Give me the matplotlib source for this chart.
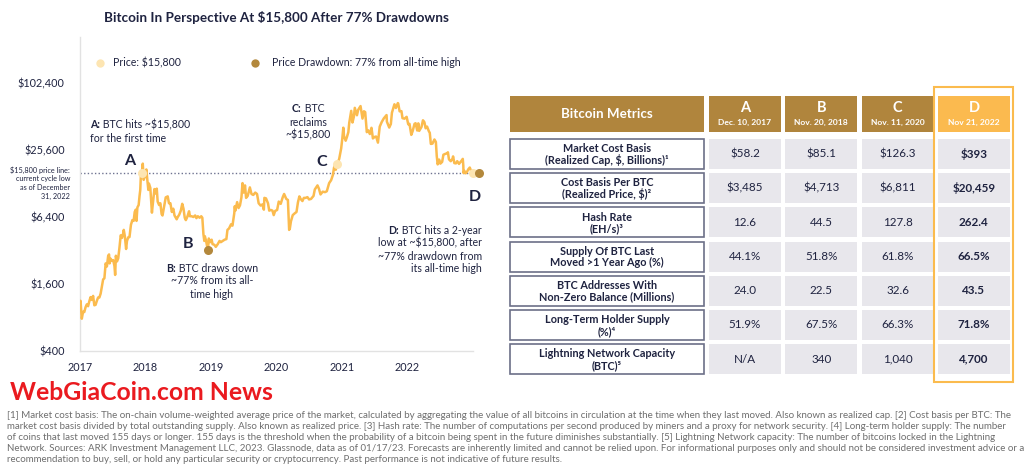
import matplotlib
matplotlib.use("Agg")
import matplotlib.pyplot as plt
from matplotlib.patches import Rectangle
import pandas as pd

plt.rcParams['text.parse_math'] = False
plt.rcParams['font.family'] = ['Lato', 'DejaVu Sans']

NAVY = '#1F2340'
LINE = '#FBBB4E'
LIGHT = '#FDE5B2'
DARK = '#B3883C'
HEAD = '#B0853D'
DHEAD = '#FBBA4F'
CELL = '#E8E7EC'
GRAY = '#E2E2E2'

# ---------------- data ----------------
price_dates = [
 "2017-01-01","2017-01-04","2017-01-11","2017-01-18","2017-01-25","2017-02-01","2017-02-08","2017-02-15","2017-02-22",
 "2017-03-01","2017-03-08","2017-03-15","2017-03-22","2017-03-29","2017-04-05","2017-04-12","2017-04-19","2017-04-26",
 "2017-05-03","2017-05-10","2017-05-17","2017-05-24","2017-05-31","2017-06-07","2017-06-12","2017-06-15","2017-06-21",
 "2017-06-28","2017-07-05","2017-07-12","2017-07-16","2017-07-20","2017-07-26","2017-08-02","2017-08-09","2017-08-16",
 "2017-08-23","2017-08-30","2017-09-02","2017-09-08","2017-09-15","2017-09-20","2017-09-27","2017-10-04","2017-10-12",
 "2017-10-20","2017-10-27","2017-11-02","2017-11-08","2017-11-12","2017-11-17","2017-11-24","2017-11-29","2017-12-03",
 "2017-12-07","2017-12-10","2017-12-17","2017-12-22","2017-12-28",
 "2018-01-06","2018-01-10","2018-01-17","2018-01-20","2018-01-28","2018-02-02","2018-02-06","2018-02-10","2018-02-20",
 "2018-02-28","2018-03-05","2018-03-10","2018-03-18","2018-03-25","2018-04-01","2018-04-06","2018-04-15","2018-04-24",
 "2018-05-05","2018-05-12","2018-05-20","2018-05-28","2018-06-05","2018-06-12","2018-06-24","2018-06-30","2018-07-08",
 "2018-07-17","2018-07-25","2018-08-01","2018-08-08","2018-08-14","2018-08-22","2018-09-01","2018-09-06","2018-09-15",
 "2018-09-25","2018-10-05","2018-10-12","2018-10-20","2018-10-30","2018-11-08","2018-11-14","2018-11-16","2018-11-20",
 "2018-11-25","2018-11-28","2018-12-05","2018-12-15","2018-12-20","2018-12-28",
 "2019-01-05","2019-01-10","2019-01-20","2019-01-28","2019-02-08","2019-02-18","2019-02-25","2019-03-08","2019-03-18",
 "2019-03-28","2019-04-03","2019-04-12","2019-04-23","2019-05-01","2019-05-11","2019-05-14","2019-05-17","2019-05-27",
 "2019-06-04","2019-06-12","2019-06-20","2019-06-26","2019-07-02","2019-07-10","2019-07-16","2019-07-25","2019-08-06",
 "2019-08-15","2019-08-25","2019-09-05","2019-09-15","2019-09-24","2019-10-05","2019-10-15","2019-10-23","2019-10-26",
 "2019-11-04","2019-11-15","2019-11-22","2019-12-01","2019-12-10","2019-12-17","2019-12-25",
 "2020-01-05","2020-01-14","2020-01-25","2020-02-05","2020-02-13","2020-02-25","2020-03-05","2020-03-12","2020-03-16",
 "2020-03-22","2020-04-01","2020-04-12","2020-04-22","2020-04-30","2020-05-08","2020-05-15","2020-05-25","2020-06-02",
 "2020-06-12","2020-06-22","2020-07-01","2020-07-12","2020-07-26","2020-08-02","2020-08-17","2020-08-25","2020-09-03",
 "2020-09-15","2020-09-28","2020-10-08","2020-10-21","2020-11-01","2020-11-11","2020-11-17","2020-11-24","2020-11-27",
 "2020-12-05","2020-12-16","2020-12-27",
 "2021-01-02","2021-01-08","2021-01-12","2021-01-21","2021-01-28","2021-02-05","2021-02-10","2021-02-21","2021-02-28",
 "2021-03-08","2021-03-13","2021-03-25","2021-04-01","2021-04-14","2021-04-25","2021-05-03","2021-05-10","2021-05-19",
 "2021-05-26","2021-06-05","2021-06-14","2021-06-22","2021-07-01","2021-07-10","2021-07-20","2021-07-30","2021-08-10",
 "2021-08-22","2021-09-06","2021-09-08","2021-09-21","2021-09-30","2021-10-06","2021-10-20","2021-10-28","2021-11-08",
 "2021-11-10","2021-11-18","2021-11-28","2021-12-04","2021-12-15","2021-12-27",
 "2022-01-05","2022-01-12","2022-01-22","2022-01-30","2022-02-09","2022-02-15","2022-02-24","2022-03-02","2022-03-07",
 "2022-03-20","2022-03-28","2022-04-05","2022-04-12","2022-04-20","2022-04-30","2022-05-05","2022-05-11","2022-05-20",
 "2022-05-31","2022-06-08","2022-06-13","2022-06-18","2022-06-26","2022-07-03","2022-07-13","2022-07-20","2022-07-30",
 "2022-08-10","2022-08-14","2022-08-20","2022-08-30","2022-09-09","2022-09-12","2022-09-19","2022-09-28","2022-10-05",
 "2022-10-15","2022-10-25","2022-10-30","2022-11-05","2022-11-08","2022-11-09","2022-11-14","2022-11-21","2022-11-28",
 "2022-12-05","2022-12-14","2022-12-20","2022-12-31",
]
price_values = [
 998,1130,780,900,895,990,1050,1010,1120,
 1220,1150,1250,1030,1040,1130,1210,1210,1310,
 1510,1760,1800,2450,2300,2860,2950,2450,2700,
 2580,2620,2330,1930,2870,2550,2720,3400,4380,
 4150,4580,4900,4300,3300,3900,4200,4230,5450,
 6000,5900,7100,7450,5900,7800,8200,9900,11200,
 16000,15000,19300,13800,14700,
 17100,14500,11200,12800,11700,8800,7000,8100,11400,
 10400,11500,8800,8200,8500,6800,6600,8000,9600,
 9800,8500,8500,7100,7600,6600,6100,6400,6700,
 7300,8400,7600,6300,6000,6400,7200,6500,6500,
 6400,6600,6250,6500,6300,6500,6300,5600,4500,
 3900,4300,3900,3200,4100,3800,
 4000,3650,3600,3450,3650,3900,3800,3900,4000,
 4050,4900,5050,5500,5350,6900,8000,7300,8700,
 7700,8150,9600,12900,10600,12300,9500,9900,11800,
 10300,10100,10600,10300,8500,8100,8300,7450,9500,
 9400,8500,7300,7400,7300,6650,7250,
 7400,8800,8400,9600,10300,9300,9100,4900,5050,
 5850,6650,6900,7100,8650,9800,9300,8900,9500,
 9500,9650,9200,9300,9900,11300,12300,11500,10200,
 10800,10700,10900,12900,13700,15300,17700,19200,17000,
 19000,21300,26400,
 32000,40600,34000,31000,33400,37000,44800,57500,45200,
 51000,61200,52500,58700,63500,49000,57000,56000,37000,
 38500,35600,40500,32500,33500,33800,29800,41500,45600,
 49300,52700,46000,40700,43800,55300,65900,61000,67500,
 67000,56900,57200,49400,48900,50800,
 43500,43900,35000,38000,44000,44500,38300,44400,38000,
 41300,47300,45500,40100,41500,37700,36500,29000,29200,
 31800,30200,22500,19000,21000,19300,20000,23200,23600,
 23900,24400,21100,20300,21400,22400,19500,19400,20300,
 19200,20100,20600,21300,18500,15900,16600,15800,16200,
 17100,17800,16800,16550,
]
price_line_value = 15800
price_points_dates = ["2017-12-12", "2020-12-05", "2022-12-31"]   # A, C, D  (price $15,800)
price_points_values = [16000, 19000, 15800]
drawdown_points_dates = ["2018-12-15", "2023-02-02"]              # B, D (drawdown 77%)
drawdown_points_values = [3200, 15800]

ytick_values = [400, 1600, 6400, 25600, 102400]
ytick_labels = ["$400", "$1,600", "$6,400", "$25,600", "$102,400"]
xtick_years = [2017, 2018, 2019, 2020, 2021, 2022]

annot_A = ["A:", " BTC hits ~$15,800", "for the first time"]
annot_B = ["B:", " BTC draws down", "~77% from its all-", "time high"]
annot_C = ["C:", " BTC", "reclaims", "~$15,800"]
annot_D = ["D:", " BTC hits a 2-year", "low at ~$15,800, after", "~77% drawdown from", "its all-time high"]

metric_names = [
 "Market Cost Basis\n(Realized Cap, $, Billions)¹",
 "Cost Basis Per BTC\n(Realized Price, $)²",
 "Hash Rate\n(EH/s)³",
 "Supply Of BTC Last\nMoved >1 Year Ago (%)",
 "BTC Addresses With\nNon-Zero Balance (Millions)",
 "Long-Term Holder Supply\n(%)⁴",
 "Lightning Network Capacity\n(BTC)⁵",
]
col_letters = ["A", "B", "C", "D"]
col_dates = ["Dec. 10, 2017", "Nov. 20, 2018", "Nov. 11, 2020", "Nov 21, 2022"]
values_A = ["$58.2", "$3,485", "12.6", "44.1%", "24.0", "51.9%", "N/A"]
values_B = ["$85.1", "$4,713", "44.5", "51.8%", "22.5", "67.5%", "340"]
values_C = ["$126.3", "$6,811", "127.8", "61.8%", "32.6", "66.3%", "1,040"]
values_D = ["$393", "$20,459", "262.4", "66.5%", "43.5", "71.8%", "4,700"]
table_values = [values_A, values_B, values_C, values_D]

footnote_lines = [
 "[1] Market cost basis: The on-chain volume-weighted average price of the market, calculated by aggregating the value of all bitcoins in circulation at the time when they last moved. Also known as realized cap. [2] Cost basis per BTC: The",
 "market cost basis divided by total outstanding supply. Also known as realized price. [3] Hash rate: The number of computations per second produced by miners and a proxy for network security. [4] Long-term holder supply: The number",
 "of coins that last moved 155 days or longer. 155 days is the threshold when the probability of a bitcoin being spent in the future diminishes substantially. [5] Lightning Network capacity: The number of bitcoins locked in the Lightning",
 "Network. Sources: ARK Investment Management LLC, 2023. Glassnode, data as of 01/17/23. Forecasts are inherently limited and cannot be relied upon. For informational purposes only and should not be considered investment advice or a",
 "recommendation to buy, sell, or hold any particular security or cryptocurrency. Past performance is not indicative of future results.",
]

# ---------------- figure ----------------
W, H = 1024, 470
fig = plt.figure(figsize=(W / 100, H / 100), dpi=100)
fig.patch.set_facecolor('white')
renderer = fig.canvas.get_renderer()


def text_w(t):
    return t.get_window_extent(renderer).width


def fit_width(t, target_px):
    t.set_fontsize(t.get_fontsize() * target_px / text_w(t))
    return t.get_fontsize()


ov = fig.add_axes([0, 0, 1, 1], zorder=0)
ov.set_xlim(0, W)
ov.set_ylim(H, 0)
ov.axis('off')

ax = fig.add_axes([80 / W, 1 - 351 / H, (473 - 80) / W, (351 - 37) / H], zorder=2)
ax.patch.set_alpha(0)

d = pd.to_datetime(price_dates)
ax.plot(d, price_values, color=LINE, lw=1.8, solid_joinstyle='round', zorder=3)
ax.axhline(price_line_value, color='#6F7391', lw=1.0, ls=(0, (1, 1.6)), zorder=2)
ax.plot(pd.to_datetime(price_points_dates), price_points_values, 'o', ms=6.5, color=LIGHT,
        mec='none', zorder=4, clip_on=False)
ax.plot(pd.to_datetime(drawdown_points_dates), drawdown_points_values, 'o', ms=6.5, color=DARK,
        mec='none', zorder=5, clip_on=False)

ax.set_yscale('log', base=2)
ax.set_ylim(400, 265000)
ax.set_xlim(pd.Timestamp("2017-01-01"), pd.Timestamp("2023-01-01"))
ax.set_yticks(ytick_values)
ax.set_yticklabels(ytick_labels)
ax.yaxis.set_minor_locator(matplotlib.ticker.NullLocator())
ax.set_xticks([pd.Timestamp(f"{y}-01-01") for y in xtick_years])
ax.set_xticklabels([str(y) for y in xtick_years])
ax.tick_params(axis='both', length=0, labelsize=7.8, labelcolor=NAVY)
ax.tick_params(axis='y', pad=11)
ax.tick_params(axis='x', pad=8)
for s in ['top', 'right']:
    ax.spines[s].set_visible(False)
for s in ['left', 'bottom']:
    ax.spines[s].set_color(GRAY)
    ax.spines[s].set_linewidth(1.0)

# title and legend
ov.text(276, 18, "Bitcoin In Perspective At $15,800 After 77% Drawdowns", ha='center', va='center',
        fontsize=9.7, fontweight='bold', color=NAVY)
ov.plot([100], [63], 'o', ms=6, color=LIGHT, mec='none')
ov.text(113, 63, "Price: $15,800", ha='left', va='center', fontsize=7.6, color=NAVY)
ov.plot([255], [63], 'o', ms=6, color=DARK, mec='none')
ov.text(272, 63, "Price Drawdown: 77% from all-time high", ha='left', va='center', fontsize=7.6, color=NAVY)

# annotations (bold prefix on first line)
AFS = 7.6


def annotation(x, y_first, parts, ha, step=13):
    bold, first, rest = parts[0], parts[1], parts[2:]
    t1 = ov.text(0, y_first, bold, ha='left', va='center', fontsize=AFS, fontweight='bold', color=NAVY)
    t2 = ov.text(0, y_first, first, ha='left', va='center', fontsize=AFS, color=NAVY)
    w1, w2 = text_w(t1), text_w(t2)
    tot = w1 + w2
    start = x if ha == 'left' else (x - tot / 2 if ha == 'center' else x - tot)
    t1.set_x(start)
    t2.set_x(start + w1)
    for k, line in enumerate(rest):
        ov.text(x, y_first + (k + 1) * step, line, ha=ha, va='center', fontsize=AFS, color=NAVY)


annotation(90, 125, annot_A, 'left')
annotation(212, 268, annot_B, 'center')
annotation(308, 109, annot_C, 'center')
annotation(482, 230, annot_D, 'right')

big = dict(fontsize=11.5, fontweight='bold', color=NAVY, ha='center', va='center')
ov.text(130, 161, "A", **big)
ov.text(188, 244, "B", **big)
ov.text(322, 162, "C", **big)
ov.text(475, 197, "D", **big)
ov.text(70, 183, "$15,800 price line:\ncurrent cycle low\nas of December\n31, 2022", ha='right', va='center',
        fontsize=5.2, color=NAVY, linespacing=1.25)

# ---------------- table ----------------
lab_x0, lab_x1 = 510, 704
col_x0, col_w, col_step = 709, 72, 76.3
head_y0, head_y1 = 96, 132
row_y0, row_h, row_step = 139, 30, 34.2

ov.add_patch(Rectangle((lab_x0, head_y0), lab_x1 - lab_x0, head_y1 - head_y0, fc=HEAD, ec='none'))
ov.text((lab_x0 + lab_x1) / 2, (head_y0 + head_y1) / 2, "Bitcoin Metrics", ha='center', va='center',
        fontsize=9.6, fontweight='bold', color='white')
for j, (letter, date) in enumerate(zip(col_letters, col_dates)):
    x0 = col_x0 + j * col_step
    fc = DHEAD if j == 3 else HEAD
    ov.add_patch(Rectangle((x0, head_y0), col_w, head_y1 - head_y0, fc=fc, ec='none'))
    ov.text(x0 + col_w / 2, 108, letter, ha='center', va='center', fontsize=10.5, fontweight='bold', color='white')
    ov.text(x0 + col_w / 2, 122.5, date, ha='center', va='center', fontsize=6.1, fontweight='bold', color='white')

for i, name in enumerate(metric_names):
    y0 = row_y0 + i * row_step
    ov.add_patch(Rectangle((lab_x0, y0), lab_x1 - lab_x0, row_h, fc='white', ec='#6C7088', lw=1.2))
    ov.text((lab_x0 + lab_x1) / 2, y0 + row_h / 2 + 0.5, name, ha='center', va='center', fontsize=7.8,
            fontweight='bold', color=NAVY, linespacing=1.05)
    for j in range(4):
        x0 = col_x0 + j * col_step
        ov.add_patch(Rectangle((x0, y0), col_w, row_h, fc=CELL, ec='none'))
        ov.text(x0 + col_w / 2, y0 + row_h / 2, table_values[j][i], ha='center', va='center',
                fontsize=8.4, color=NAVY, fontweight='bold' if j == 3 else 'normal')

ov.add_patch(Rectangle((934, 87), 79, 295, fc='none', ec=LINE, lw=1.5))

# watermark
wm = ov.text(10, 392, "WebGiaCoin.com News", ha='left', va='center', fontsize=19, fontweight='bold',
             color='#EA1A1F')
fit_width(wm, 262)

# footnotes
fn_texts = []
for k, line in enumerate(footnote_lines):
    fn_texts.append(ov.text(7, 416 + k * 10.8, line, ha='left', va='center', fontsize=6.0, color='#6E6E6E'))
fs = fit_width(fn_texts[0], 1008)
for t in fn_texts[1:]:
    t.set_fontsize(fs)

fig.savefig("out.png", dpi=100, facecolor='white')
